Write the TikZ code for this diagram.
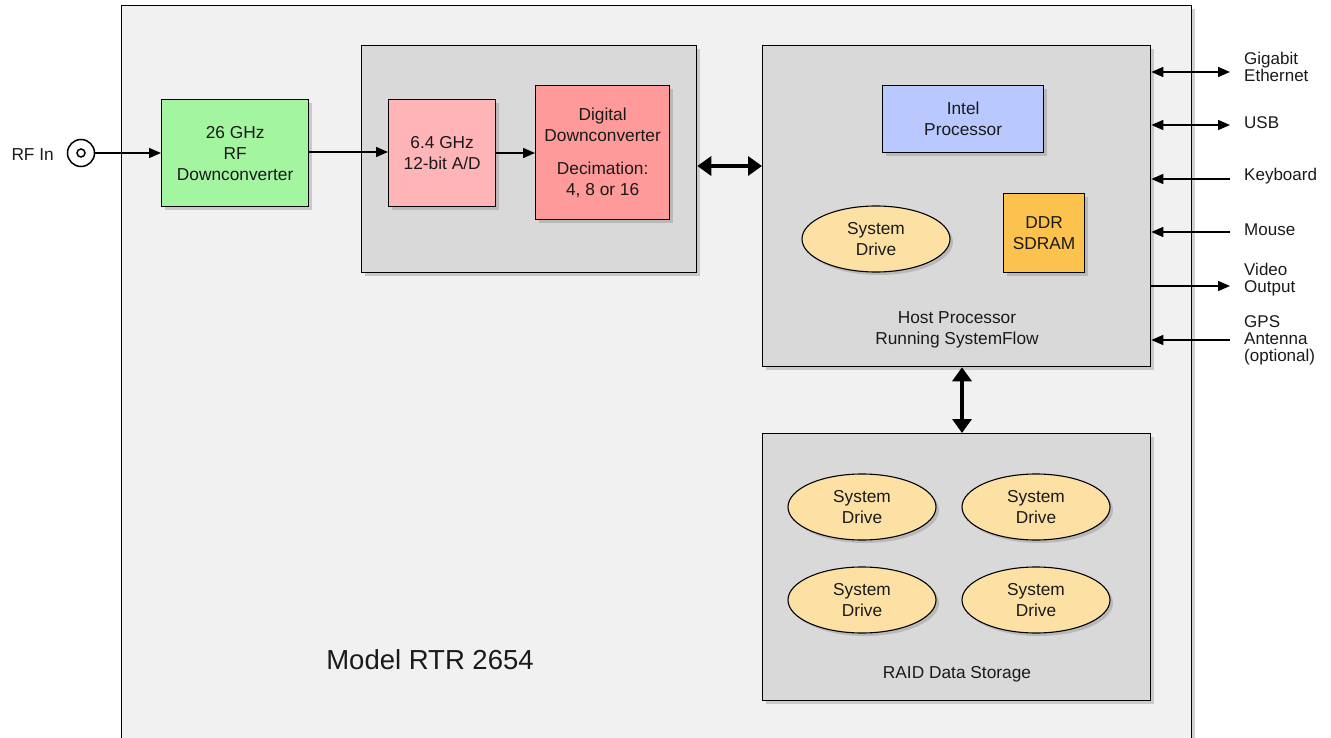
\documentclass[tikz,border=0pt]{standalone}
\usepackage{fontspec}
\setmainfont{Liberation Sans}
\usetikzlibrary{arrows.meta,shadows,shapes.geometric}
\definecolor{outerfill}{HTML}{F1F1F1}
\definecolor{grayfill}{HTML}{D9D9D9}
\definecolor{greenfill}{HTML}{A3F5A0}
\definecolor{pinkfill}{HTML}{FFB4B8}
\definecolor{redfill}{HTML}{FF9A9A}
\definecolor{bluefill}{HTML}{B9C9FF}
\definecolor{drivefill}{HTML}{FDE1A4}
\definecolor{ddrfill}{HTML}{FCC24E}
\definecolor{txt}{HTML}{1A1A1A}
\tikzset{
  shad/.style={drop shadow={opacity=0.35,shadow xshift=3pt,shadow yshift=-3pt}},
  box/.style={draw=black,line width=1.3pt,rectangle,inner sep=0pt,align=center,anchor=north west,shad},
  drive/.style={draw=black,line width=1.1pt,ellipse,fill=drivefill,minimum width=148pt,minimum height=66pt,inner sep=0pt,align=center,shad},
  thin/.style={line width=1.5pt,-{Triangle[length=12pt,width=10pt]}},
  thinb/.style={line width=1.5pt,{Triangle[length=12pt,width=10pt]}-{Triangle[length=12pt,width=10pt]}},
  thick/.style={line width=4pt,{Triangle[length=14pt,width=19pt]}-{Triangle[length=14pt,width=19pt]}},
  lbl/.style={align=left,anchor=west,inner sep=0pt,font=\fontsize{17}{17}\selectfont},
}
\begin{document}
\begin{tikzpicture}[x=1pt,y=-1pt,font=\fontsize{17.3}{21}\selectfont,text=txt]
\useasboundingbox (0,0) rectangle (1331,738);
\fill[white] (0,0) rectangle (1331,738);
% outer chassis
\node[box,fill=outerfill,minimum width=1070pt,minimum height=760pt] (outer) at (121,5) {};
% RF input
\node[anchor=east,inner sep=0pt] (rfin) at (54,155) {RF In};
\node[circle,draw,line width=1.5pt,minimum size=27pt,inner sep=0pt] (conn) at (81,153) {};
\node[circle,draw,line width=1.5pt,minimum size=8pt,inner sep=0pt] (pin) at (81,153) {};
% RF downconverter
\node[box,fill=greenfill,minimum width=147pt,minimum height=107pt] (rfdc) at (161,99) {26 GHz\\RF\\Downconverter};
% digitizer group
\node[box,fill=grayfill,minimum width=335pt,minimum height=227pt] (dig) at (361,45) {};
\node[box,fill=pinkfill,minimum width=107pt,minimum height=107pt] (ad) at (388,99) {6.4 GHz\\12-bit A/D};
\node[box,fill=redfill,minimum width=134pt,minimum height=134pt] (ddc) at (535,85) {Digital\\Downconverter\\[12pt]Decimation:\\4, 8 or 16};
% host processor
\node[box,fill=grayfill,minimum width=388pt,minimum height=321pt] (host) at (762,45) {};
\node[box,fill=bluefill,minimum width=161pt,minimum height=67pt] (cpu) at (882,85) {Intel\\Processor};
\node[drive] (sysdrv) at (876,239) {System\\Drive};
\node[box,fill=ddrfill,minimum width=81pt,minimum height=79pt] (ddr) at (1003,193) {DDR\\SDRAM};
\node[align=center,inner sep=0pt] (hostlbl) at (957,330) {Host Processor\\Running SystemFlow};
% RAID
\node[box,fill=grayfill,minimum width=388pt,minimum height=267pt] (raid) at (762,433) {};
\node[drive] (d1) at (862,507) {System\\Drive};
\node[drive] (d2) at (1036,507) {System\\Drive};
\node[drive] (d3) at (862,600) {System\\Drive};
\node[drive] (d4) at (1036,600) {System\\Drive};
\node[inner sep=0pt] (raidlbl) at (957,674) {RAID Data Storage};
% model label
\node[inner sep=0pt,font=\fontsize{27.5}{30}\selectfont] (model) at (430,660) {Model RTR 2654};
% signal chain
\draw[thin] (conn.east) -- (rfdc.west|-conn.east);
\draw[thin] (rfdc.east|-0,152) -- (ad.west|-0,152);
\draw[thin] (ad.east|-0,153) -- (ddc.west|-0,153);
\draw[thick] (dig.east|-0,166) -- (host.west|-0,166);
\draw[thick] (host.south-|962,0) -- (raid.north-|962,0);
% external I/O
\coordinate (pge) at (1230,72);
\coordinate (pusb) at (1230,125);
\coordinate (pkb) at (1230,179);
\coordinate (pms) at (1230,232);
\coordinate (pvid) at (1230,286);
\coordinate (pgps) at (1230,340);
\draw[thinb] (host.east|-pge) -- (pge);
\draw[thinb] (host.east|-pusb) -- (pusb);
\draw[thin] (pkb) -- (host.east|-pkb);
\draw[thin] (pms) -- (host.east|-pms);
\draw[thin] (host.east|-pvid) -- (pvid);
\draw[thin] (pgps) -- (host.east|-pgps);
\node[lbl] (lge) at (1244,67) {Gigabit\\Ethernet};
\node[lbl] (lusb) at (1244,123) {USB};
\node[lbl] (lkb) at (1244,176) {Keyboard};
\node[lbl] (lms) at (1244,230) {Mouse};
\node[lbl] (lvid) at (1244,280) {Video\\Output};
\node[lbl] (lgps) at (1244,340) {GPS\\Antenna\\(optional)};
\end{tikzpicture}
\end{document}
